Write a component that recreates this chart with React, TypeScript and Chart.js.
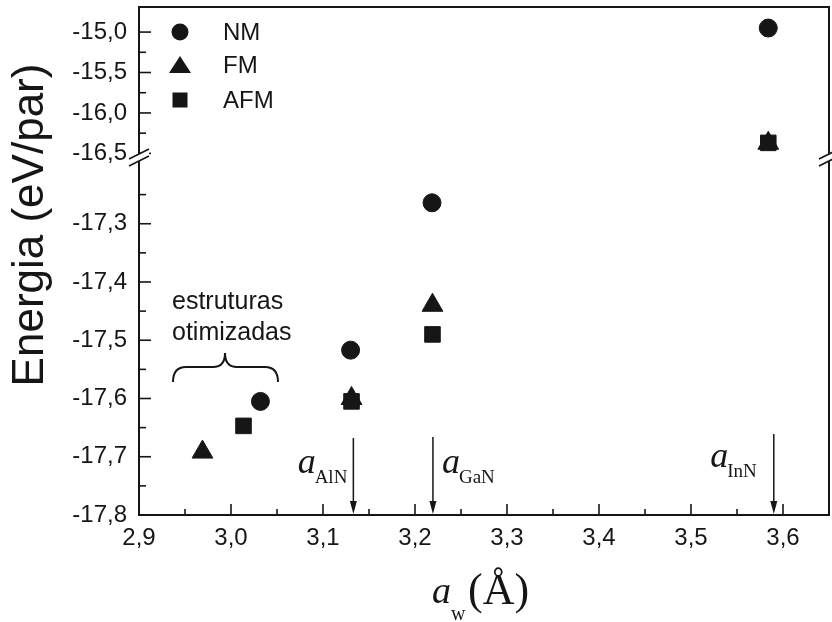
import React, { useEffect, useRef } from 'react';
import { Chart, registerables } from 'chart.js';

Chart.register(...registerables);

// ---- data ----
const seriesNames = ['NM', 'FM', 'AFM'];
const nmAw = [3.032, 3.130, 3.2185, 3.584];
const nmE = [-17.605, -17.517, -17.264, -14.95];
const fmAw = [2.969, 3.131, 3.219, 3.584];
const fmE = [-17.692, -17.600, -17.440, -16.375];
const afmAw = [3.0136, 3.131, 3.219, 3.584];
const afmE = [-17.647, -17.605, -17.490, -16.37];

const xTicks = [2.9, 3.0, 3.1, 3.2, 3.3, 3.4, 3.5, 3.6];
const xMinorTicks = [2.95, 3.05, 3.15, 3.25, 3.35, 3.45, 3.55];
const yUpperTicks = [-15.0, -15.5, -16.0, -16.5];
const yUpperMinor = [-15.25, -15.75, -16.25];
const yLowerTicks = [-17.3, -17.4, -17.5, -17.6, -17.7, -17.8];
const yLowerMinor = [-17.25, -17.35, -17.45, -17.55, -17.65, -17.75];

const refNames = ['AlN', 'GaN', 'InN'];
const refAw = [3.133, 3.2195, 3.59];

const annotationLines = ['estruturas', 'otimizadas'];

// axis ranges
const X_MIN = 2.9;
const X_MAX = 3.65;
const UP_MIN = -16.52;
const UP_MAX = -14.69;
const LOW_MIN = -17.8;
const LOW_MAX = -17.182;
const BREAK_AT = -17.0;

const SANS = '"Liberation Sans", Arial, sans-serif';
const SERIF = '"Liberation Serif", "Times New Roman", serif';
const INK = '#161616';

const fmt = (v: number) => Number(v).toFixed(1).replace('.', ',');

function split(xs: number[], ys: number[], upper: boolean) {
  const out: { x: number; y: number }[] = [];
  xs.forEach((x, i) => {
    const isUp = ys[i] > BREAK_AT;
    if (isUp === upper) out.push({ x, y: ys[i] });
  });
  return out;
}

const styles = [
  { style: 'circle', r: 9 },
  { style: 'triangle', r: 12 },
  { style: 'rect', r: 11 },
];

const zeroPadding = (axis: any) => {
  axis.paddingTop = 0;
  axis.paddingBottom = 0;
  axis.paddingLeft = 0;
  axis.paddingRight = 0;
};

const decorPlugin = {
  id: 'decor',
  afterDraw(chart: any) {
    const ctx: CanvasRenderingContext2D = chart.ctx;
    const { left, right, top, bottom } = chart.chartArea;
    const xs = chart.scales.x;
    const yU = chart.scales.yUp;
    const yL = chart.scales.yLow;
    ctx.save();
    ctx.strokeStyle = INK;
    ctx.fillStyle = INK;

    // frame (top + right)
    ctx.lineWidth = 2;
    ctx.beginPath();
    ctx.moveTo(left - 1, top);
    ctx.lineTo(right, top);
    ctx.lineTo(right, bottom);
    ctx.stroke();

    // inward ticks
    ctx.lineWidth = 1.6;
    const hTick = (y: number, len: number) => {
      ctx.beginPath();
      ctx.moveTo(left, y);
      ctx.lineTo(left + len, y);
      ctx.stroke();
    };
    yUpperTicks.forEach((v) => hTick(yU.getPixelForValue(v), 12));
    yUpperMinor.forEach((v) => hTick(yU.getPixelForValue(v), 7));
    yLowerTicks.forEach((v) => hTick(yL.getPixelForValue(v), 12));
    yLowerMinor.forEach((v) => hTick(yL.getPixelForValue(v), 7));
    const vTick = (x: number, len: number) => {
      ctx.beginPath();
      ctx.moveTo(x, bottom);
      ctx.lineTo(x, bottom - len);
      ctx.stroke();
    };
    xTicks.forEach((v) => vTick(xs.getPixelForValue(v), 11));
    xMinorTicks.forEach((v) => vTick(xs.getPixelForValue(v), 6));

    // axis break marks
    const yb = yL.top;
    const brk = (cx: number) => {
      ctx.fillStyle = '#ffffff';
      ctx.beginPath();
      ctx.moveTo(cx - 10, yb + 4);
      ctx.lineTo(cx + 10, yb - 6);
      ctx.lineTo(cx + 10, yb + 1);
      ctx.lineTo(cx - 10, yb + 11);
      ctx.closePath();
      ctx.fill();
      ctx.fillStyle = INK;
      ctx.lineWidth = 1.6;
      ctx.beginPath();
      ctx.moveTo(cx - 10, yb + 4);
      ctx.lineTo(cx + 10, yb - 6);
      ctx.moveTo(cx - 10, yb + 11);
      ctx.lineTo(cx + 10, yb + 1);
      ctx.stroke();
    };
    brk(left);
    brk(right);

    // legend (inside plot, top-left)
    ctx.font = `24px ${SANS}`;
    ctx.textBaseline = 'middle';
    ctx.textAlign = 'left';
    const legendY = [top + 25, top + 58, top + 93];
    const mx = left + 41;
    seriesNames.forEach((name, i) => {
      const cy = legendY[i];
      ctx.beginPath();
      if (i === 0) {
        ctx.arc(mx, cy, 8.5, 0, Math.PI * 2);
      } else if (i === 1) {
        ctx.moveTo(mx, cy - 9);
        ctx.lineTo(mx + 11, cy + 8);
        ctx.lineTo(mx - 11, cy + 8);
        ctx.closePath();
      } else {
        ctx.rect(mx - 7.5, cy - 7.5, 15, 15);
      }
      ctx.fill();
      ctx.fillText(name, left + 84, cy + 1);
    });

    // "estruturas otimizadas" + brace
    ctx.font = `25px ${SANS}`;
    ctx.fillText(annotationLines[0], 172, 302);
    ctx.fillText(annotationLines[1], 172, 333);
    ctx.lineWidth = 2;
    ctx.beginPath();
    ctx.moveTo(173, 382);
    ctx.quadraticCurveTo(173, 367, 186, 367);
    ctx.lineTo(213, 367);
    ctx.quadraticCurveTo(225, 367, 225, 353);
    ctx.quadraticCurveTo(225, 367, 237, 367);
    ctx.lineTo(265, 367);
    ctx.quadraticCurveTo(278, 367, 278, 382);
    ctx.stroke();

    // reference lattice arrows
    const arrowTop = [438, 437, 434];
    const aBase = [473, 473, 467];
    const labelSide = [-1, 1, -1];
    const labelGap = [6, 9, 17];
    refAw.forEach((v, i) => {
      const px = xs.getPixelForValue(v);
      ctx.lineWidth = 1.5;
      ctx.beginPath();
      ctx.moveTo(px, arrowTop[i]);
      ctx.lineTo(px, bottom - 10);
      ctx.stroke();
      ctx.beginPath();
      ctx.moveTo(px - 3.5, bottom - 14);
      ctx.lineTo(px + 3.5, bottom - 14);
      ctx.lineTo(px, bottom - 1);
      ctx.closePath();
      ctx.fill();
      ctx.font = `italic 36px ${SERIF}`;
      const aW = ctx.measureText('a').width;
      ctx.font = `19px ${SERIF}`;
      const sW = ctx.measureText(refNames[i]).width;
      ctx.textBaseline = 'alphabetic';
      let startX: number;
      if (labelSide[i] < 0) startX = px - labelGap[i] - sW - aW + 1;
      else startX = px + labelGap[i];
      ctx.font = `italic 36px ${SERIF}`;
      ctx.fillText('a', startX, aBase[i]);
      ctx.font = `19px ${SERIF}`;
      ctx.fillText(refNames[i], startX + aW - 1, aBase[i] + 10);
    });

    // x title: a_w (Å)
    ctx.textBaseline = 'alphabetic';
    ctx.font = `italic 38px ${SERIF}`;
    ctx.fillText('a', 432, 603);
    ctx.font = `20px ${SERIF}`;
    ctx.fillText('w', 451, 620);
    ctx.font = `44px ${SERIF}`;
    ctx.fillText('(Å)', 468, 604);

    // y title
    ctx.save();
    ctx.translate(43, 225);
    ctx.rotate(-Math.PI / 2);
    ctx.font = `44px ${SANS}`;
    ctx.textAlign = 'center';
    ctx.fillText('Energia (eV/par)', 0, 0);
    ctx.restore();

    ctx.restore();
  },
};

export default function App() {
  const ref = useRef<HTMLCanvasElement | null>(null);

  useEffect(() => {
    if (!ref.current) return;
    const all = [
      [nmAw, nmE],
      [fmAw, fmE],
      [afmAw, afmE],
    ];
    const datasets: any[] = [];
    all.forEach(([xs, ys], i) => {
      [false, true].forEach((upper) => {
        datasets.push({
          label: seriesNames[i] + (upper ? ' (upper)' : ''),
          data: split(xs as number[], ys as number[], upper),
          yAxisID: upper ? 'yUp' : 'yLow',
          pointStyle: styles[i].style,
          pointRadius: styles[i].r,
          backgroundColor: INK,
          borderColor: INK,
          borderWidth: 1,
          showLine: false,
          clip: false,
          order: i === 0 ? 2 : i === 1 ? 1 : 0,
        });
      });
    });

    const tickFont = { family: SANS, size: 24 };
    const yCommon = (min: number, max: number, ticks: number[], weight: number) => ({
      type: 'linear',
      position: 'left',
      stack: 'energy',
      stackWeight: weight,
      min,
      max,
      grid: { display: false, drawTicks: false },
      border: { display: true, color: INK, width: 2 },
      afterBuildTicks: (axis: any) => {
        axis.ticks = ticks.map((v) => ({ value: v }));
      },
      afterFit: (axis: any) => {
        axis.width = 139;
        zeroPadding(axis);
      },
      ticks: {
        font: tickFont,
        color: INK,
        padding: 12,
        autoSkip: false,
        callback: (v: any) => fmt(v),
      },
    });

    const chart = new Chart(ref.current, {
      type: 'scatter',
      data: { datasets },
      plugins: [decorPlugin],
      options: {
        responsive: false,
        animation: false,
        events: [],
        layout: { autoPadding: false, padding: { top: 7, right: 3, left: 0, bottom: 0 } },
        plugins: { legend: { display: false }, tooltip: { enabled: false } },
        scales: {
          x: {
            type: 'linear',
            position: 'bottom',
            min: X_MIN,
            max: X_MAX,
            grid: { display: false, drawTicks: false },
            border: { display: true, color: INK, width: 2 },
            afterBuildTicks: (axis: any) => {
              axis.ticks = xTicks.map((v) => ({ value: v }));
            },
            afterFit: (axis: any) => {
              axis.height = 107;
              zeroPadding(axis);
            },
            ticks: {
              font: tickFont,
              color: INK,
              padding: 9,
              autoSkip: false,
              maxRotation: 0,
              callback: (v: any) => fmt(v),
            },
          },
          yLow: yCommon(LOW_MIN, LOW_MAX, yLowerTicks, 360) as any,
          yUp: yCommon(UP_MIN, UP_MAX, yUpperTicks, 148) as any,
        },
      } as any,
    });
    return () => chart.destroy();
  }, []);

  return (
    <div style={{ position: 'absolute', left: 0, top: 0, width: 832, height: 622, background: '#fff' }}>
      <canvas ref={ref} width={832} height={622} style={{ display: 'block', width: 832, height: 622 }} />
    </div>
  );
}
